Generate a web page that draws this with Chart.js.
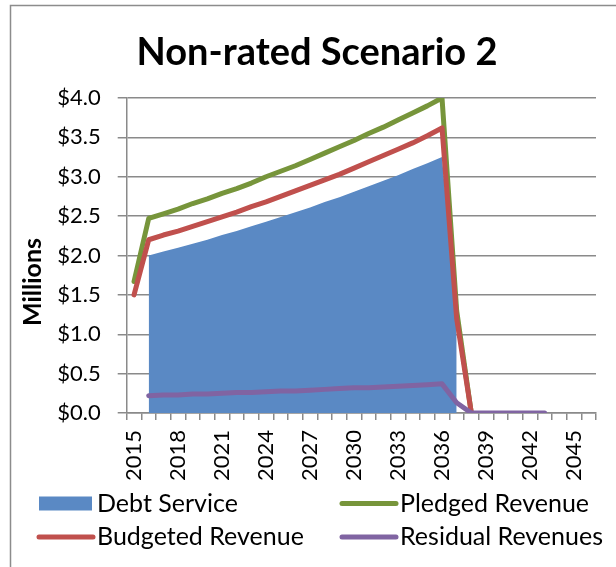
<!DOCTYPE html>
<html>
<head>
<meta charset="utf-8">
<script src="https://cdn.jsdelivr.net/npm/chart.js@4"></script>
<style>
  body { margin: 0; background: #fff; }
</style>
</head>
<body>
<canvas id="chart-area" width="616" height="567"></canvas>
<script>
// years on the category axis
var years = [];
for (var y = 2015; y <= 2046; y++) years.push(String(y));

// values in millions
var debtService = [null,
  2.00, 2.05, 2.10, 2.15, 2.20, 2.26, 2.31, 2.37, 2.43, 2.49, 2.55,
  2.61, 2.68, 2.74, 2.81, 2.88, 2.95, 3.02, 3.10, 3.17, 3.25, 1.15];
var pledgedRevenue = [1.67,
  2.47, 2.53, 2.59, 2.66, 2.72, 2.79, 2.85, 2.92, 3.00, 3.07, 3.14,
  3.22, 3.30, 3.38, 3.46, 3.55, 3.63, 3.72, 3.81, 3.90, 4.00, 1.30, 0];
var budgetedRevenue = [1.50,
  2.20, 2.26, 2.31, 2.37, 2.43, 2.49, 2.55, 2.62, 2.68, 2.75, 2.82,
  2.89, 2.96, 3.03, 3.11, 3.19, 3.27, 3.35, 3.43, 3.52, 3.62, 1.20, 0];
var residualRevenues = [null,
  0.22, 0.23, 0.23, 0.24, 0.24, 0.25, 0.26, 0.26, 0.27, 0.28, 0.28,
  0.29, 0.30, 0.31, 0.32, 0.32, 0.33, 0.34, 0.35, 0.36, 0.37, 0.13,
  0, 0, 0, 0, 0, 0];

var yTicks = [0, 0.5, 1, 1.5, 2, 2.5, 3, 3.5, 4];

var FONT = "Lato";
var GRID = "#8a8a8a";

// title, axis title, legend and the chart frame
var decorations = {
  id: "decorations",
  afterDraw: function (chart) {
    var c = chart.ctx;
    c.save();
    c.strokeStyle = "#8c8c8c";
    c.lineWidth = 1.5;
    c.strokeRect(10.5, 5.5, 700, 700);

    c.fillStyle = "#000";
    c.font = "bold 38px " + FONT;
    c.textAlign = "center";
    c.textBaseline = "alphabetic";
    c.fillText("Non-rated Scenario 2", 317, 65);

    c.save();
    c.translate(41, 282);
    c.rotate(-Math.PI / 2);
    c.font = "bold 25px " + FONT;
    c.fillText("Millions", 0, 0);
    c.restore();

    var ds = chart.data.datasets;
    c.font = "25px " + FONT;
    c.textAlign = "left";
    for (var i = 0; i < ds.length; i++) {
      var col = i % 2, row = Math.floor(i / 2);
      var x0 = col ? 342 : 39;
      var cy = row ? 537 : 503.5;
      if (ds[i].fill) {
        c.fillStyle = ds[i].backgroundColor;
        c.fillRect(x0, cy - 7, 53, 14);
      } else {
        c.strokeStyle = ds[i].borderColor;
        c.lineWidth = 5;
        c.lineCap = "round";
        c.beginPath();
        c.moveTo(x0, cy);
        c.lineTo(x0 + 54, cy);
        c.stroke();
      }
      c.fillStyle = "#000";
      c.fillText(ds[i].label, x0 + 58, cy + 8);
    }
    c.restore();
  }
};

var lineStyle = {
  fill: false, borderWidth: 5, pointRadius: 0, tension: 0,
  borderJoinStyle: "round", borderCapStyle: "round"
};

var config = {
  type: "line",
  data: {
    labels: years,
    datasets: [
      { label: "Debt Service", data: debtService, fill: "origin",
        backgroundColor: "#5a89c4", borderWidth: 0, pointRadius: 0, order: 3 },
      Object.assign({ label: "Pledged Revenue", data: pledgedRevenue,
        borderColor: "#77953b", order: 2 }, lineStyle),
      Object.assign({ label: "Budgeted Revenue", data: budgetedRevenue,
        borderColor: "#c0504d", order: 1 }, lineStyle),
      Object.assign({ label: "Residual Revenues", data: residualRevenues,
        borderColor: "#8064a2", order: 0 }, lineStyle)
    ]
  },
  options: {
    responsive: false,
    animation: false,
    devicePixelRatio: 1,
    layout: { padding: { top: 98, right: 20, bottom: 0, left: 0 } },
    plugins: { legend: { display: false }, tooltip: { enabled: false } },
    scales: {
      x: {
        offset: true,
        grid: { offset: true, drawOnChartArea: false, drawTicks: true,
                tickLength: 7, color: GRID, lineWidth: 1.5 },
        border: { color: GRID, width: 1.5 },
        ticks: {
          autoSkip: false, minRotation: 90, maxRotation: 90, padding: 10,
          color: "#000", font: { family: FONT, size: 22 },
          callback: function (v, i) { return i % 3 === 0 ? years[i] : ""; }
        },
        afterFit: function (s) {
          s.height = 154;
          s.paddingLeft = 0;
          s.paddingRight = 0;
        }
      },
      y: {
        min: 0, max: 4,
        afterBuildTicks: function (s) {
          s.ticks = yTicks.map(function (v) { return { value: v }; });
        },
        grid: { color: GRID, lineWidth: 1.5, tickLength: 9, drawTicks: true },
        border: { color: GRID, width: 1.5 },
        ticks: {
          padding: 17, color: "#000", font: { family: FONT, size: 22 },
          callback: function (v) { return "$" + v.toFixed(1); }
        },
        afterFit: function (s) {
          s.width = 126.7;
          s.paddingTop = 0;
          s.paddingBottom = 0;
        }
      }
    }
  },
  plugins: [decorations]
};

var ctx = document.getElementById("chart-area").getContext("2d");
var myChart = new Chart(ctx, config);
</script>
</body>
</html>
